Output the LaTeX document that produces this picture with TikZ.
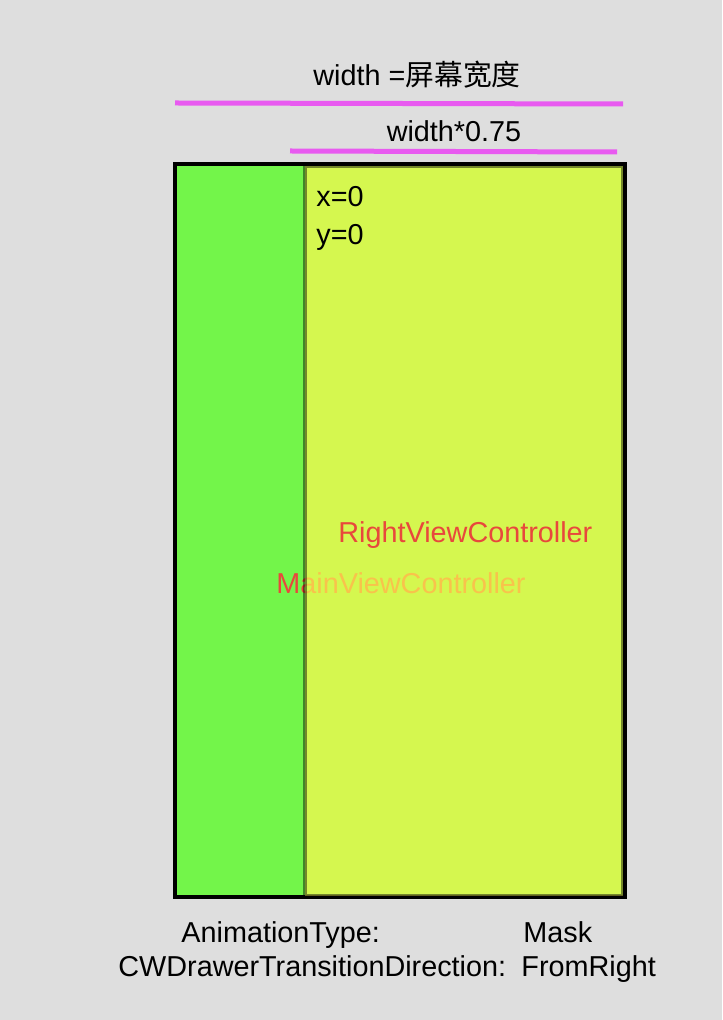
\documentclass[tikz,border=0pt]{standalone}
\usepackage{fontspec}
\setmainfont{Liberation Sans}
\newfontfamily\cjk{Noto Sans CJK SC}
\usepackage{xcolor}
\usetikzlibrary{positioning}

\definecolor{bggray}{HTML}{DEDEDE}
\definecolor{maingreen}{HTML}{73F54A}
\definecolor{rightyellow}{RGB}{255,248,82}
\definecolor{barpink}{HTML}{E85AF0}
\definecolor{labelred}{HTML}{E8483C}

\begin{document}
\begin{tikzpicture}[
  x=0.5pt,y=-0.5pt,
  font=\fontsize{14.4}{17}\selectfont,
  screen/.style={draw=black,line width=2pt,fill=maingreen,inner sep=0pt,outer sep=0pt},
  drawer/.style={draw=black,draw opacity=0.45,line width=2pt,fill=rightyellow,fill opacity=0.7,inner sep=0pt,outer sep=0pt},
  bar/.style={draw=barpink,line width=2.5pt},
  vclabel/.style={text=labelred,anchor=base west,inner sep=0pt},
  note/.style={anchor=base west,inner sep=0pt},
  node distance=19pt and 0pt
]
\fill[bggray] (0,0) rectangle (722,1020);
\useasboundingbox (0,0) rectangle (722,1020);

% width labels and bars
\node[anchor=base] (screenw) at (417,85.5) {width =\cjk 屏幕宽度};
\coordinate (barA) at (175,103);
\coordinate (barB) at (623,104);
\draw[bar] (barA) -- (barB);
\node[anchor=base] (drawerw) at (454,141.5) {width*0.75};
\coordinate (barC) at (290,151);
\coordinate (barD) at (617,152);
\draw[bar] (barC) -- (barD);

% main view, its label under the drawer
\node[screen,minimum width=225pt,minimum height=366.5pt] (main) at (400,530.5) {};
\node[vclabel] (mainvc) at (276,593) {MainViewController};

% right drawer on top
\node[drawer,minimum width=159pt,minimum height=364.75pt] (right) at (464,531.25) {};
\node[vclabel] (rightvc) at (338,542.5) {RightViewController};
\node[note] (xorig) at (316,206.5) {x=0};
\node[note,below=of xorig.base west,anchor=base west] (yorig) {y=0};

% captions
\node[note] (animkey) at (181,942) {AnimationType:};
\node[note] (animval) at (523,942) {Mask};
\node[note] (dirkey) at (118,976) {CWDrawerTransitionDirection:};
\node[note] (dirval) at (521,976) {FromRight};
\end{tikzpicture}
\end{document}
